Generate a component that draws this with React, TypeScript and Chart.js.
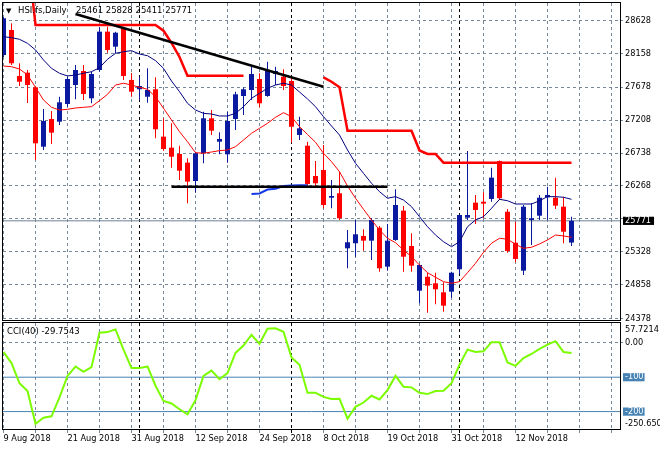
import React, { useEffect, useRef } from "react";
import { Chart, registerables } from "chart.js";

Chart.register(...registerables);

// ---------------- data ----------------
const SYMBOL = "HSI.fs";
const PERIOD = "Daily";

const barDates = [
  "2018.08.09","2018.08.10","2018.08.13","2018.08.14","2018.08.15","2018.08.16","2018.08.17","2018.08.20","2018.08.21","2018.08.22","2018.08.23","2018.08.24","2018.08.27","2018.08.28","2018.08.29","2018.08.30","2018.08.31",
  "2018.09.03","2018.09.04","2018.09.05","2018.09.06","2018.09.07","2018.09.10","2018.09.11","2018.09.12","2018.09.13","2018.09.14","2018.09.17","2018.09.18","2018.09.19","2018.09.20","2018.09.21","2018.09.24","2018.09.26","2018.09.27","2018.09.28",
  "2018.10.02","2018.10.03","2018.10.04","2018.10.05","2018.10.08","2018.10.09","2018.10.10","2018.10.11","2018.10.12","2018.10.15","2018.10.16","2018.10.18","2018.10.19","2018.10.22","2018.10.23","2018.10.24","2018.10.25","2018.10.26","2018.10.29","2018.10.30","2018.10.31",
  "2018.11.01","2018.11.02","2018.11.05","2018.11.06","2018.11.07","2018.11.08","2018.11.09","2018.11.12","2018.11.13","2018.11.14","2018.11.15","2018.11.16","2018.11.19","2018.11.20","2018.11.21",
];

const opens = [
  28137,28494,27838,27885,27676,26829,27224,27186,27438,27709,
  27909,27519,27923,28470,28256,28518,27781,27648,27542,27648,
  26972,26815,26725,26601,26339,26735,27234,26900,26720,27224,
  27552,27638,27795,27552,27866,27828,27766,26996,26843,26411,
  26496,26101,26164,25379,25451,25555,25488,25673,25117,25498,
  25916,25412,24774,24974,24880,24751,24760,25080,25816,26030,
  26044,26083,26625,25901,25459,25060,25783,25844,26107,26101,
  25973,25461,
];
const highs = [
  28679,28590,28019,27923,27695,27367,27338,27542,27823,27995,
  27995,27899,28532,28541,28470,28541,27880,27828,27947,27819,
  27234,27163,26843,26663,26757,27328,27352,27034,27328,27614,
  27676,27970,27876,28042,27970,27933,27805,27257,26900,26625,
  26853,26354,26472,25640,25783,25650,25807,25697,25726,26221,
  25983,25593,25151,25031,25031,24894,25045,25860,26767,26140,
  26178,26529,26630,25940,25759,25997,26021,26140,26258,26387,
  26116,25828,
];
const lows = [
  28109,27995,27695,27452,26639,26782,26867,27138,27400,27505,
  27495,27448,27899,28170,28161,27781,27542,27495,27457,26949,
  26772,26529,26354,26021,26173,26592,26996,26720,26601,27067,
  27281,27495,27391,27542,27709,27638,26886,26924,26254,26250,
  25950,25950,25783,25094,25259,25345,25212,25045,25060,25488,
  25045,25045,24594,24460,24580,24475,24674,25013,25783,25726,
  25807,26044,26068,25316,25179,24998,25426,25783,25783,25940,
  25451,25411,
];
const closes = [
  28661,28019,27756,27709,26877,27196,27029,27462,27795,27923,
  27581,27866,28470,28209,28455,27838,27614,27695,27638,27077,
  26796,26686,26486,26330,26735,27234,27057,26939,27196,27576,
  27648,27866,27448,27909,27909,27695,27114,27091,26297,26307,
  25997,26125,25807,25465,25579,25488,25783,25094,25488,25997,
  25259,25131,25141,24846,24794,24560,25031,25854,25854,25926,
  26016,26387,26093,25341,25227,25973,25807,26101,26140,25987,
  25616,25771,
];

// navy moving average
const slowMA = [
  28398,28384,28361,28304,28209,28066,27947,27876,27838,27852,
  27876,27899,27956,28076,28161,28184,28199,28151,28127,28056,
  27947,27766,27614,27448,27352,27305,27295,27267,27267,27305,
  27400,27519,27591,27662,27709,27734,27709,27609,27510,27400,
  27257,27124,26996,26782,26592,26449,26307,26187,26093,26116,
  26068,25973,25830,25687,25569,25473,25402,25473,25687,25783,
  25830,25950,26078,26058,26011,26011,26011,26058,26116,26116,
  26107,26078,
];
// red moving average
const fastMA = [
  27980,27970,27937,27852,27676,27495,27391,27352,27362,27381,
  27391,27400,27485,27576,27709,27734,27709,27676,27648,27542,
  27377,27210,27043,26900,26743,26735,26753,26772,26782,26829,
  26924,27020,27091,27163,27248,27314,27257,27114,27003,26892,
  26735,26615,26472,26268,26093,25936,25783,25640,25522,25459,
  25355,25259,25141,25031,24966,24903,24880,24903,25031,25165,
  25322,25451,25522,25508,25436,25379,25394,25441,25498,25569,
  25555,25536,
];

// trailing stop (red, above price) — two segments
const stopDownAStart = 3;
const stopDownA = [
  29600,28565,28565,28565,28565,28565,28565,28565,28565,28565,
  28565,28565,28565,28565,28565,28565,28565,28484,28309,28109,
  27842,27842,27842,27842,27842,27842,27842,27842,
];
const stopDownBStart = 40;
const stopDownB = [
  27819,27756,27676,27057,27057,27057,27057,27057,27057,27057,
  27057,27057,26775,26725,26725,26601,26601,26601,26601,26601,
  26601,26601,26601,26601,26601,26601,26601,26601,26601,26601,
  26601,26601,
];
// trailing stop (blue, below price)
const stopUpStart = 31;
const stopUp = [26154,26161,26218,26230,26268,26275,26278,26278];

// drawn objects
const trendBars = [9, 40];
const trendPrices = [28722, 27685];
const supportBars = [21, 48];
const supportPrices = [26258, 26258];

// CCI(40)
const cci = [
  -26.5,-58.8,-117.6,-140.3,-235.3,-217.6,-213.8,-158.8,-96.2,-68.8,
  -84.4,-70.6,29.4,31.2,39.1,-19.7,-73.5,-73.5,-68.8,-124.7,
  -168.8,-176.5,-193.2,-207.9,-166.8,-96.2,-80.6,-105.9,-88.2,-29.4,
  -7.9,23.5,-2.9,41.2,42.1,32.4,-42.4,-63.8,-145.3,-145.3,
  -157.1,-163.3,-162.8,-220.6,-186.3,-173.6,-154.0,-164.8,-137.4,-96.2,
  -127.5,-129.5,-145.3,-149.1,-140.3,-139.3,-117.6,-63.8,-19.7,-26.5,
  -24.6,1.9,1.9,-56.9,-66.8,-44.2,-32.4,-17.6,-5.0,4.8,
  -26.5,-29.7543,
];
const CCI_PERIOD = 40;
const cciLevels = [-100, -200];
const cciGrid = [0];
const CCI_MIN = -250.65;
const CCI_MAX = 57.7214;

// price axis tick values
const priceGrid = [28628, 28158, 27678, 27208, 26738, 26268, 25798, 25328, 24858, 24378];
const PRICE_MIN = 24356;
const PRICE_MAX = 28879;

// ---------------- styling / layout ----------------
const X_MIN = -0.0625;
const X_MAX = 77.0625;
const LABEL_EVERY = 8;
const GRID_EVERY = 4;

const BULL = "#0A1AA0";
const BEAR = "#FF0000";
const GRID = "#778899";
const NAVY = "#000080";
const STOP_UP = "#1438E6";
const PRICE_LINE = "#6E8096";
const LEVEL = "#4682B4";
const CCI_GREEN = "#7CFC00";
const FONT = "'DejaVu Sans', sans-serif";
const AXIS_FONT = { family: FONT, size: 8.2, lineHeight: 1 };

const MONTHS = ["Jan","Feb","Mar","Apr","May","Jun","Jul","Aug","Sep","Oct","Nov","Dec"];
const fmtDate = (s: string) => {
  const [y, m, d] = s.split(".");
  return `${parseInt(d, 10)} ${MONTHS[parseInt(m, 10) - 1]} ${y}`;
};

const last = closes.length - 1;
const lastClose = closes[last];
const idx = closes.map((_, i) => i);

const monthStarts = barDates
  .map((d, i) => (i > 0 && d.slice(5, 7) !== barDates[i - 1].slice(5, 7) ? i : -1))
  .filter((i) => i >= 0);
const gridBars: number[] = [];
for (let i = 0; i <= X_MAX; i += GRID_EVERY) gridBars.push(i);
const xTicks = Array.from(new Set([...gridBars, ...monthStarts])).sort((a, b) => a - b);

const xGridColor = (ctx: any) =>
  ctx.tick && monthStarts.includes(ctx.tick.value) ? "#000000" : GRID;

const xLabel = (value: number) => {
  if (monthStarts.includes(value)) return "";
  if (value % LABEL_EVERY === 0 && value < barDates.length) return fmtDate(barDates[value]);
  return "";
};

const buildXScale = (showLabels: boolean, height: number) => ({
  type: "linear",
  min: X_MIN,
  max: X_MAX,
  bounds: "data",
  offset: false,
  afterBuildTicks: (s: any) => {
    s.ticks = xTicks.map((v) => ({ value: v }));
  },
  afterFit: (s: any) => {
    s.height = height;
    s.paddingLeft = 0;
    s.paddingRight = 0;
  },
  ticks: {
    display: showLabels,
    autoSkip: false,
    maxRotation: 0,
    minRotation: 0,
    align: "start",
    padding: 1.5,
    color: "#000",
    font: AXIS_FONT,
    callback: (v: number) => xLabel(v),
  },
  grid: {
    offset: false,
    color: xGridColor,
    tickColor: xGridColor,
    lineWidth: 1,
    drawTicks: showLabels,
    tickLength: 4,
  },
  border: { display: false, dash: [3, 3] },
});

const framePlugin = {
  id: "frame",
  afterDraw(chart: any) {
    const { ctx, chartArea: a } = chart;
    ctx.save();
    ctx.strokeStyle = "#000";
    ctx.lineWidth = 1;
    ctx.strokeRect(a.left - 0.5, a.top - 0.5, a.right - a.left + 1, a.bottom - a.top + 1);
    ctx.restore();
  },
};

const headerPlugin = {
  id: "header",
  afterDraw(chart: any) {
    const ctx = chart.ctx;
    ctx.save();
    ctx.fillStyle = "#000";
    ctx.textAlign = "left";
    ctx.textBaseline = "middle";
    ctx.font = `7px ${FONT}`;
    ctx.fillText("\u25BC", 6, 11);
    ctx.font = `8.5px ${FONT}`;
    ctx.fillText(`${SYMBOL},${PERIOD}`, 18, 11);
    ctx.fillText(`${opens[last]} ${highs[last]} ${lows[last]} ${closes[last]}`, 76, 11);
    ctx.restore();
  },
};

const cciTextPlugin = {
  id: "cciText",
  afterDraw(chart: any) {
    const { ctx, chartArea: a } = chart;
    ctx.save();
    ctx.fillStyle = "#000";
    ctx.textAlign = "left";
    ctx.textBaseline = "middle";
    ctx.font = `8.5px ${FONT}`;
    ctx.fillText(`CCI(${CCI_PERIOD}) ${cci[last]}`, 7, a.top + 9);
    ctx.font = `8.2px ${FONT}`;
    ctx.fillText(CCI_MAX.toFixed(4), a.right + 5, a.top + 7);
    ctx.fillText(CCI_MIN.toFixed(3), a.right + 5, a.bottom - 5);
    ctx.restore();
  },
};

function mainConfig(): any {
  const candleColor = idx.map((i) => (closes[i] >= opens[i] ? BULL : BEAR));
  const bodyData = idx.map((i) => ({ x: i, y: [opens[i], closes[i]] }));
  const wickData = idx.map((i) => ({ x: i, y: [lows[i], highs[i]] }));
  const stopDownPts: any[] = [
    ...stopDownA.map((v, k) => ({ x: stopDownAStart + k, y: v })),
    { x: stopDownAStart + stopDownA.length, y: null },
    ...stopDownB.map((v, k) => ({ x: stopDownBStart + k, y: v })),
  ];
  const stopUpPts = stopUp.map((v, k) => ({ x: stopUpStart + k, y: v }));
  const line = (data: any, color: string, width: number, order: number, label: string) => ({
    type: "line",
    label,
    data,
    borderColor: color,
    backgroundColor: color,
    borderWidth: width,
    pointRadius: 0,
    tension: 0,
    spanGaps: false,
    fill: false,
    clip: 0,
    order,
  });
  const isCur = (ctx: any) => ctx.tick && ctx.tick.value === lastClose;
  return {
    type: "bar",
    data: {
      datasets: [
        line(trendBars.map((b, k) => ({ x: b, y: trendPrices[k] })), "#000", 2.5, 0, "Trend line"),
        line(supportBars.map((b, k) => ({ x: b, y: supportPrices[k] })), "#000", 2.5, 0, "Support"),
        line(stopUpPts, STOP_UP, 2, 1, "Stop up"),
        line(stopDownPts, BEAR, 2.5, 1, "Stop down"),
        line(slowMA.map((v, i) => ({ x: i, y: v })), NAVY, 1, 2, "MA slow"),
        line(fastMA.map((v, i) => ({ x: i, y: v })), BEAR, 1, 2, "MA fast"),
        {
          type: "bar",
          label: "Body",
          data: bodyData,
          backgroundColor: candleColor,
          barThickness: 5,
          grouped: false,
          inflateAmount: 0,
          borderWidth: 0,
          order: 5,
        },
        {
          type: "bar",
          label: "Wick",
          data: wickData,
          backgroundColor: candleColor,
          barThickness: 1,
          grouped: false,
          inflateAmount: 0,
          borderWidth: 0,
          order: 6,
        },
        line([{ x: X_MIN, y: lastClose }, { x: X_MAX, y: lastClose }], PRICE_LINE, 1, 7, "Price"),
      ],
    },
    options: {
      animation: false,
      responsive: false,
      devicePixelRatio: 1,
      events: [],
      layout: { padding: { left: 3, top: 3, right: 0, bottom: 1 }, autoPadding: false },
      plugins: { legend: { display: false }, tooltip: { enabled: false }, title: { display: false } },
      scales: {
        x: buildXScale(false, 0),
        y: {
          type: "linear",
          position: "right",
          min: PRICE_MIN,
          max: PRICE_MAX,
          bounds: "data",
          beginAtZero: false,
          afterBuildTicks: (s: any) => {
            s.ticks = [...priceGrid, lastClose].map((v) => ({ value: v }));
          },
          afterFit: (s: any) => {
            s.width = 40;
            s.paddingTop = 0;
            s.paddingBottom = 0;
          },
          ticks: {
            autoSkip: false,
            padding: 2,
            font: AXIS_FONT,
            color: (ctx: any) => (isCur(ctx) ? "#fff" : "#000"),
            showLabelBackdrop: (ctx: any) => isCur(ctx),
            backdropColor: "#000",
            backdropPadding: { left: 2, right: 3, top: 0, bottom: 0 },
            callback: (v: number) =>
              v === lastClose ? String(v) : Math.abs(v - lastClose) < 100 ? "" : String(v),
          },
          grid: {
            color: (ctx: any) => (isCur(ctx) ? "rgba(0,0,0,0)" : GRID),
            tickColor: (ctx: any) => (isCur(ctx) ? "rgba(0,0,0,0)" : GRID),
            lineWidth: 1,
            drawTicks: true,
            tickLength: 3,
          },
          border: { display: false, dash: [3, 3] },
        },
      },
    },
    plugins: [framePlugin, headerPlugin],
  };
}

function cciConfig(): any {
  const isLevel = (ctx: any) => ctx.tick && cciLevels.includes(ctx.tick.value);
  return {
    type: "line",
    data: {
      datasets: [
        {
          label: `CCI(${CCI_PERIOD})`,
          data: cci.map((v, i) => ({ x: i, y: v })),
          borderColor: CCI_GREEN,
          borderWidth: 2,
          pointRadius: 0,
          tension: 0,
          fill: false,
          clip: 0,
          order: 0,
        },
        ...cciLevels.map((lv) => ({
          label: `Level ${lv}`,
          data: [{ x: X_MIN, y: lv }, { x: X_MAX, y: lv }],
          borderColor: LEVEL,
          borderWidth: 1,
          pointRadius: 0,
          tension: 0,
          fill: false,
          clip: 0,
          order: 1,
        })),
      ],
    },
    options: {
      animation: false,
      responsive: false,
      devicePixelRatio: 1,
      events: [],
      layout: { padding: { left: 3, top: 2, right: 0, bottom: 0 }, autoPadding: false },
      plugins: { legend: { display: false }, tooltip: { enabled: false }, title: { display: false } },
      scales: {
        x: buildXScale(true, 21),
        y: {
          type: "linear",
          position: "right",
          min: CCI_MIN,
          max: CCI_MAX,
          bounds: "data",
          beginAtZero: false,
          afterBuildTicks: (s: any) => {
            s.ticks = [...cciGrid, ...cciLevels].map((v) => ({ value: v }));
          },
          afterFit: (s: any) => {
            s.width = 40;
            s.paddingTop = 0;
            s.paddingBottom = 0;
          },
          ticks: {
            autoSkip: false,
            padding: 2,
            font: AXIS_FONT,
            color: (ctx: any) => (isLevel(ctx) ? "#fff" : "#000"),
            showLabelBackdrop: (ctx: any) => isLevel(ctx),
            backdropColor: LEVEL,
            backdropPadding: { left: 2, right: 1, top: 0, bottom: 0 },
            callback: (v: number) => (v === 0 ? "0.00" : String(v)),
          },
          grid: {
            color: (ctx: any) => (isLevel(ctx) ? "rgba(0,0,0,0)" : GRID),
            tickColor: (ctx: any) => (isLevel(ctx) ? "rgba(0,0,0,0)" : GRID),
            lineWidth: 1,
            drawTicks: true,
            tickLength: 3,
          },
          border: { display: false, dash: [3, 3] },
        },
      },
    },
    plugins: [framePlugin, cciTextPlugin],
  };
}

export default function App() {
  const mainRef = useRef<HTMLCanvasElement | null>(null);
  const cciRef = useRef<HTMLCanvasElement | null>(null);

  useEffect(() => {
    if (!mainRef.current || !cciRef.current) return;
    const main = new Chart(mainRef.current, mainConfig());
    const ind = new Chart(cciRef.current, cciConfig());
    return () => {
      main.destroy();
      ind.destroy();
    };
  }, []);

  return (
    <div style={{ position: "absolute", left: 0, top: 0, width: 660, height: 450, background: "#fff" }}>
      <canvas
        ref={mainRef}
        width={660}
        height={321}
        style={{ position: "absolute", left: 0, top: 0, width: 660, height: 321 }}
      />
      <canvas
        ref={cciRef}
        width={660}
        height={129}
        style={{ position: "absolute", left: 0, top: 321, width: 660, height: 129 }}
      />
    </div>
  );
}
